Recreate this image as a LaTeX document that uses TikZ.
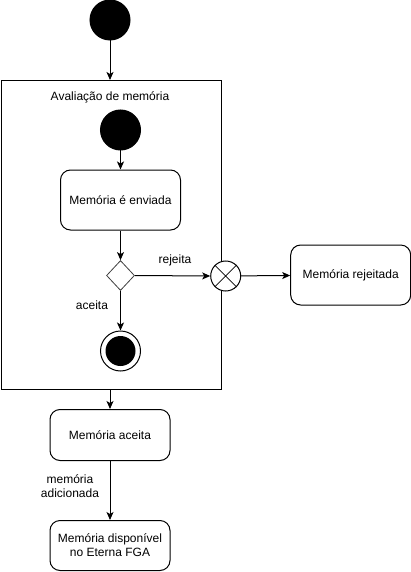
\documentclass[tikz,border=0pt]{standalone}
\usepackage{fontspec}
\setmainfont{Liberation Sans}
\usetikzlibrary{arrows.meta,shapes.geometric}
\begin{document}
\begin{tikzpicture}[x=1pt,y=-1pt,font=\fontsize{12}{14}\selectfont,
  line width=1pt,
  arr/.style={-{Stealth[length=8pt,width=7pt,inset=2pt]}},
  initnode/.style={circle,fill=black,draw=black,minimum size=40pt,inner sep=0pt},
  action/.style={draw,rounded corners=10pt,minimum width=120pt,minimum height=60pt,inner sep=2pt,align=center},
  lbl/.style={inner sep=0pt,align=center}]
\useasboundingbox (0,0) rectangle (411,572);
% top initial
\node[initnode] (start) at (110,20) {};
% container
\node[draw,minimum width=220pt,minimum height=309pt,anchor=north west,inner sep=0pt] (cont) at (0.5,80) {};
\node[lbl] (contlbl) at (110,97) {Avaliação de memória};
% inner initial
\node[initnode] (istart) at (120.5,130) {};
\node[action] (env) at (120.5,200) {Memória é enviada};
\node[diamond,draw=black!75,fill=white,minimum width=28pt,minimum height=30pt,inner sep=0pt,line width=0.8pt] (dec) at (120.5,275.5) {};
\node[circle,draw,fill=white,minimum size=30pt,inner sep=0pt] (ff) at (225.7,276) {};
\draw[line width=0.7pt] (ff.45) -- (ff.225) (ff.135) -- (ff.315);
\node[action] (rej) at (350.7,275) {Memória rejeitada};
\node[circle,draw,fill=white,minimum size=40pt,inner sep=0pt] (fin) at (120.5,351) {};
\node[circle,fill=black,minimum size=30pt,inner sep=0pt] (fininner) at (fin) {};
\node[action,minimum height=51pt] (ace) at (110,435) {Memória aceita};
\node[action,minimum height=50pt] (disp) at (110,545.5) {Memória disponível\\no Eterna FGA};
% labels
\node[lbl] (lrej) at (175,260) {rejeita};
\node[lbl] (lace) at (92,305) {aceita};
\node[lbl,font=\fontsize{12}{14}\selectfont] (lmem) at (70,486) {memória\\adicionada};
% edges
\draw[arr] (start) -- (start |- cont.north);
\draw[arr] (istart) -- (env);
\draw[arr] (env) -- (dec);
\draw[arr] (dec.east) -- (ff.west);
\draw[arr] (ff) -- (rej);
\draw[arr] (dec.south) -- (fin);
\draw[arr] (ace.north |- cont.south) -- (ace);
\draw[arr] (ace) -- (disp);
\end{tikzpicture}
\end{document}
